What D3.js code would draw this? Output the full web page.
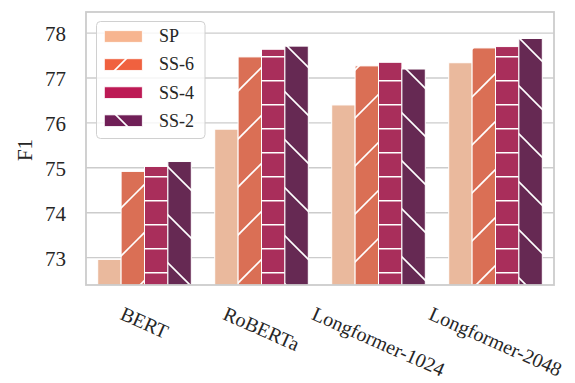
<!DOCTYPE html>
<html>
<head>
<meta charset="utf-8">
<script src="https://cdn.jsdelivr.net/npm/d3@7"></script>
<style>
  body { margin: 0; background: #fff; }
  svg { display: block; }
  text { font-family: "Liberation Serif", "Times New Roman", Times, serif; fill: #262626; }
</style>
</head>
<body>
<svg id="chart" width="575" height="383"></svg>
<script>
// Model groups and the four evaluation settings
const categories = ["BERT", "RoBERTa", "Longformer-1024", "Longformer-2048"];
const seriesNames = ["SP", "SS-6", "SS-4", "SS-2"];

// F1 per setting, one entry per model
const valuesSP  = [72.96, 75.86, 76.40, 77.34];
const valuesSS6 = [74.92, 77.47, 77.27, 77.67];
const valuesSS4 = [75.03, 77.64, 77.35, 77.70];
const valuesSS2 = [75.14, 77.71, 77.20, 77.88];

const yTicks = [73, 74, 75, 76, 77, 78];

// Full-strength colours (legend) and hatch kinds per setting
const palette = ["#f7b590", "#f0613f", "#bd1a55", "#701f57"];
const hatchKinds = ["none", "slash", "dash", "backslash"];

const seriesValues = [valuesSP, valuesSS6, valuesSS4, valuesSS2];

// Bars are drawn with slightly desaturated colours
function desaturate(c, f) {
  const h = d3.hsl(c);
  h.s *= f;
  return h.formatHex();
}
const barColors = palette.map(c => desaturate(c, 0.75));

const svg = d3.select("#chart");
const plot = { left: 86, right: 554, top: 12, bottom: 285 };
const fontFamily = "Liberation Serif, Times New Roman, serif";

const x = d3.scaleBand()
  .domain(categories)
  .range([plot.left, plot.right])
  .paddingInner(0.2)
  .paddingOuter(0.1);

const xInner = d3.scaleBand()
  .domain(seriesNames)
  .range([0, x.bandwidth()]);

const y = d3.scaleLinear()
  .domain([72.39, 78.47])
  .range([plot.bottom, plot.top]);

// ---- hatch patterns (anchored in page space) ----
const defs = svg.append("defs");
const hatchStroke = "#ffffff";
const hatchWidth = 1.6;

function addPattern(id, fill, kind) {
  const size = kind === "dash" ? [48, 24] : [48, 48];
  const p = defs.append("pattern")
    .attr("id", id)
    .attr("patternUnits", "userSpaceOnUse")
    .attr("x", 0).attr("y", 0)
    .attr("width", size[0]).attr("height", size[1]);
  p.append("rect").attr("width", size[0]).attr("height", size[1]).attr("fill", fill);
  if (kind === "slash") {
    for (let k = -1; k <= 2; k++) {
      const c = 41 + 48 * k;
      p.append("line").attr("x1", -20).attr("y1", c + 20).attr("x2", 68).attr("y2", c - 68)
        .attr("stroke", hatchStroke).attr("stroke-width", hatchWidth);
    }
  } else if (kind === "backslash") {
    for (let k = -2; k <= 1; k++) {
      const c = 47 + 48 * k;
      p.append("line").attr("x1", -20).attr("y1", c - 20).attr("x2", 68).attr("y2", c + 68)
        .attr("stroke", hatchStroke).attr("stroke-width", hatchWidth);
    }
  } else if (kind === "dash") {
    p.append("line").attr("x1", 0).attr("y1", 8.7).attr("x2", 48).attr("y2", 8.7)
      .attr("stroke", hatchStroke).attr("stroke-width", hatchWidth);
  }
  return `url(#${id})`;
}

const barFills = seriesNames.map((s, i) => addPattern("bar-" + i, barColors[i], hatchKinds[i]));
const legendFills = seriesNames.map((s, i) => addPattern("leg-" + i, palette[i], hatchKinds[i]));

defs.append("clipPath").attr("id", "plot-clip")
  .append("rect")
  .attr("x", plot.left).attr("y", plot.top)
  .attr("width", plot.right - plot.left).attr("height", plot.bottom - plot.top);

// ---- grid ----
svg.append("g")
  .selectAll("line")
  .data(yTicks)
  .join("line")
  .attr("x1", plot.left).attr("x2", plot.right)
  .attr("y1", d => y(d)).attr("y2", d => y(d))
  .attr("stroke", "#cccccc")
  .attr("stroke-width", 1.4);

// ---- bars ----
const barData = [];
categories.forEach((cat, ci) => {
  seriesNames.forEach((s, si) => {
    barData.push({ cat, s, si, v: seriesValues[si][ci] });
  });
});

svg.append("g")
  .attr("clip-path", "url(#plot-clip)")
  .selectAll("rect")
  .data(barData)
  .join("rect")
  .attr("x", d => x(d.cat) + xInner(d.s))
  .attr("width", xInner.bandwidth())
  .attr("y", d => y(d.v))
  .attr("height", d => plot.bottom + 5 - y(d.v))
  .attr("fill", d => barFills[d.si])
  .attr("stroke", "#ffffff")
  .attr("stroke-width", 1);

// ---- frame ----
svg.append("rect")
  .attr("x", plot.left).attr("y", plot.top)
  .attr("width", plot.right - plot.left).attr("height", plot.bottom - plot.top)
  .attr("fill", "none")
  .attr("stroke", "#cccccc")
  .attr("stroke-width", 1.8);

// ---- y axis ----
const yAxis = d3.axisLeft(y).tickValues(yTicks).tickSize(0).tickPadding(20).tickFormat(d3.format("d"));
const yg = svg.append("g").attr("transform", `translate(${plot.left},0)`).call(yAxis);
yg.attr("font-family", fontFamily).attr("font-size", 21);
yg.select(".domain").remove();
yg.selectAll("text")
  .attr("fill", "#262626")
  .attr("dy", "0.36em");

svg.append("text")
  .attr("transform", "translate(25,150) rotate(-90)")
  .attr("text-anchor", "middle")
  .attr("dy", "0.35em")
  .attr("font-size", 21)
  .text("F1");

// ---- x axis (rotated labels, centred under each group) ----
const angle = 24;
const rad = angle * Math.PI / 180;
const labelSize = 20;
const xAxis = d3.axisBottom(x).tickSize(0).tickPadding(0);
const xg = svg.append("g").attr("transform", `translate(0,${plot.bottom})`).call(xAxis);
xg.attr("font-family", fontFamily).attr("font-size", labelSize);
xg.select(".domain").remove();
xg.selectAll(".tick").attr("transform", null);
xg.selectAll(".tick text")
  .attr("fill", "#262626")
  .attr("text-anchor", "middle")
  .attr("y", null)
  .attr("dy", "0.34em")
  .each(function(d) {
    const w = this.getComputedTextLength();
    const boxH = 1.107 * labelSize;
    const top = 302.3 - plot.bottom;
    const cy = top + (w * Math.sin(rad) + boxH * Math.cos(rad)) / 2;
    const cx = x(d) + x.bandwidth() / 2;
    d3.select(this).attr("transform", `translate(${cx},${cy}) rotate(${angle})`);
  });

// ---- legend ----
const legend = svg.append("g");
legend.append("rect")
  .attr("x", 96.5).attr("y", 21.5)
  .attr("width", 108.5).attr("height", 117)
  .attr("rx", 4)
  .attr("fill", "#ffffff").attr("fill-opacity", 0.8)
  .attr("stroke", "#d0d0d0").attr("stroke-width", 1);

const rowY = d3.scalePoint().domain(seriesNames).range([36.5, 120.7]);
const rows = legend.selectAll("g.row")
  .data(seriesNames)
  .join("g").attr("class", "row");
rows.append("rect")
  .attr("x", 104.3).attr("width", 38)
  .attr("y", d => rowY(d) - 5.8).attr("height", 11.6)
  .attr("fill", (d, i) => legendFills[i])
  .attr("stroke", "#ffffff").attr("stroke-width", 0.8);
rows.append("text")
  .attr("x", 159)
  .attr("y", d => rowY(d) + 5.9)
  .attr("font-size", 18)
  .text(d => d);
</script>
</body>
</html>
